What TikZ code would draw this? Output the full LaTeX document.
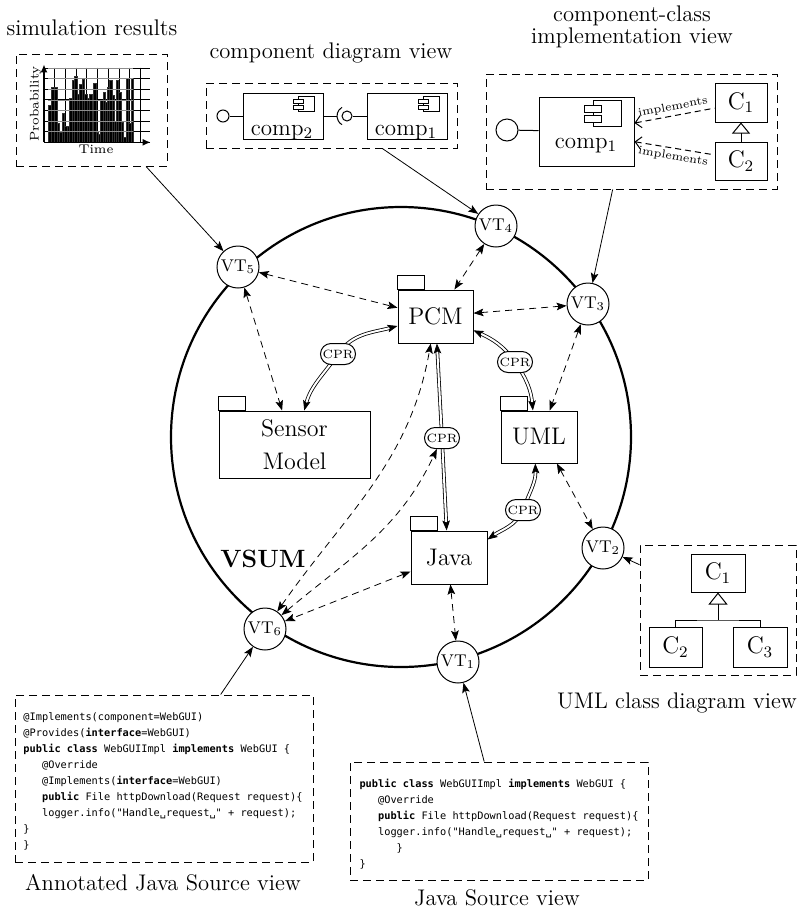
\documentclass[tikz,border=0pt]{standalone}
\usepackage{fontspec}
\newfontfamily\codefont{DejaVu Sans Mono}
\usetikzlibrary{arrows.meta,shapes.misc,backgrounds}
\begin{document}
\begin{tikzpicture}[x=0.5pt,y=-0.5pt,line width=0.5pt,
  lbl/.style={font=\fontsize{11.3}{12}\selectfont, inner sep=0, anchor=base},
  pkg/.style={draw, fill=white, inner sep=0, align=center, font=\fontsize{12}{16.5}\selectfont},
  vt/.style={draw, circle, fill=white, minimum size=21pt, inner sep=0, font=\fontsize{8.5}{10}\selectfont},
  cpr/.style={draw, rounded rectangle, fill=white, minimum width=18.5pt, minimum height=10.5pt, inner sep=0.5pt, font=\fontsize{6}{7}\selectfont},
  view/.style={draw, dash pattern=on 4pt off 2.5pt, inner sep=0},
  plainbox/.style={draw, inner sep=0, fill=white},
  cls/.style={draw, inner sep=0, fill=white, font=\fontsize{12}{14}\selectfont},
  comptxt/.style={font=\fontsize{11.5}{13}\selectfont, inner sep=0, anchor=base},
  vtip/.tip={Stealth[length=5pt,width=3.8pt,inset=1pt]},
  dar/.style={dash pattern=on 3.5pt off 2.5pt, {vtip}-{vtip}},
  sar/.style={-{vtip}},
  dbl/.style={double, double distance=1pt, line width=0.4pt},
  impl/.style={dash pattern=on 3pt off 2pt, {Straight Barb[length=3pt,width=6pt]}-},
  impltxt/.style={inner sep=1.5pt, font=\fontsize{5.8}{7}\selectfont},
  code/.style={anchor=north west, inner sep=0, align=left, font=\codefont\fontsize{5.15}{8}\selectfont},
  cicon/.pic={
    \draw[fill=white] (0,0) rectangle (16,15);
    \draw[fill=white] (-5,3) rectangle (5,7);
    \draw[fill=white] (-5,9) rectangle (5,13);
  }
]
\useasboundingbox (0,0) rectangle (800,911);

% ---------- central model ----------
\coordinate (vsumc) at (401,437);
\node[pkg, minimum width=37.5pt, minimum height=26.5pt] (pcm) at (435.5,316.5) {PCM};
\node[pkg, minimum width=75.5pt, minimum height=33.5pt] (sensor) at (294.5,444.5) {Sensor\\Model};
\node[pkg, minimum width=38pt, minimum height=26pt] (uml) at (539,437) {UML};
\node[pkg, minimum width=38pt, minimum height=26.5pt] (java) at (449,557.5) {Java};
\foreach \n in {pcm,sensor,uml,java}
  \draw (\n.north west) rectangle ++(13.5pt,6.8pt);

\node[font=\bfseries\fontsize{12.5}{14}\selectfont, inner sep=0, anchor=base] (vsum) at (263,567) {VSUM};

\node[vt] (vt1) at (458,662) {VT$_1$};
\node[vt] (vt2) at (603,548) {VT$_2$};
\node[vt] (vt3) at (588,304) {VT$_3$};
\node[vt] (vt4) at (496,226) {VT$_4$};
\node[vt] (vt5) at (238,267) {VT$_5$};
\node[vt] (vt6) at (265,629) {VT$_6$};

\node[cpr] (cpr1) at (338,354) {CPR};
\node[cpr] (cpr2) at (515,362) {CPR};
\node[cpr] (cpr3) at (442,438) {CPR};
\node[cpr] (cpr4) at (523,510) {CPR};

% ---------- simulation results ----------
\node[lbl] (simlbl) at (92,35) {simulation results};
\node[view, minimum width=75.5pt, minimum height=56pt] (simbox) at (91.5,110) {};
\begin{scope}[shift={(30,55)}, xscale=1/3, yscale=1/3]
  \foreach \i in {0,...,9}
    \draw[black, line width=0.45pt] ({42+\i*32.2},38) -- ({42+\i*32.2},262);
  \foreach \j in {0,...,7}
    \draw[black, line width=0.45pt] (42,{262-\j*31.8}) -- (360,{262-\j*31.8});
  \foreach \a/\b/\t in {55/63/150, 63/72/95, 72/80/95, 80/88/205, 88/95/230, 95/102/175,
     102/110/212, 110/118/212, 118/125/128, 125/133/75, 133/140/62, 140/147/118, 147/155/88,
     155/162/72, 162/170/118, 170/177/128, 177/185/118, 185/190/150, 190/197/85, 197/203/230,
     203/210/238, 210/218/135, 218/225/110, 225/231/140, 231/238/95, 238/245/75, 245/251/120,
     251/258/198, 258/265/75, 265/272/110, 272/280/200, 280/288/245, 288/295/70, 295/302/205,
     302/308/70}
    \filldraw[fill=black, draw=black!80, line width=0.15pt] (\a,\t) rectangle (\b,262);
  \foreach \j in {1,...,7}
    \draw[black!45, line width=0.25pt] (55,{262-\j*31.8}) -- (308,{262-\j*31.8});
  \draw[line width=0.8pt, -{Latex[length=4pt,width=3.5pt]}] (42,262) -- (42,28);
  \draw[line width=0.8pt, -{Latex[length=4pt,width=3.5pt]}] (42,262) -- (362,262);
\end{scope}
\node[rotate=90, font=\fontsize{6.3}{7}\selectfont, inner sep=0] (problbl) at (35.5,104) {Probability};
\node[font=\fontsize{6.3}{7}\selectfont, inner sep=0] (timelbl) at (96,149.5) {Time};

% ---------- component diagram view ----------
\node[lbl] (complbl) at (331,58.5) {component diagram view};
\node[view, minimum width=125.5pt, minimum height=32.5pt] (compbox) at (331.5,115.5) {};
\node[plainbox, minimum width=40pt, minimum height=23pt] (comp2) at (283,116) {};
\node[plainbox, minimum width=40pt, minimum height=23pt] (comp1) at (407,116) {};
\pic at (298,96) {cicon};
\pic at (423,96) {cicon};
\node[comptxt] (comp2txt) at (282,135) {comp$_2$};
\node[comptxt] (comp1txt) at (406,135) {comp$_1$};
\node[draw, circle, minimum size=6pt, inner sep=0] (lol2) at (223,116) {};
\node[draw, circle, minimum size=5pt, inner sep=0] (ball1) at (347,116) {};
\draw (lol2) -- (comp2);
\draw ([shift={(120:5pt)}]ball1.center) arc[start angle=120, end angle=240, radius=5pt];
\draw (comp2.east) -- ([xshift=-5pt]ball1.center);
\draw (ball1) -- (comp1);

% ---------- component-class implementation view ----------
\node[lbl] (impllbl1) at (632,21.7) {component-class};
\node[lbl] (impllbl2) at (632,43.3) {implementation view};
\node[view, minimum width=145.5pt, minimum height=57.5pt] (implbox) at (631.5,131.5) {};
\node[plainbox, minimum width=47.5pt, minimum height=34.5pt] (icomp) at (586.5,131.5) {};
\pic[scale=1.75] at (593,100) {cicon};
\node[comptxt] (icomptxt) at (586,148) {comp$_1$};
\node[draw, circle, minimum size=11pt, inner sep=0] (ilol) at (507,130) {};
\draw (ilol) -- (icomp);
\node[cls, minimum width=26pt, minimum height=19.5pt] (ic1) at (741,102.5) {C$_1$};
\node[cls, minimum width=26pt, minimum height=19pt] (ic2) at (741,161) {C$_2$};
\draw[-{Triangle[open,length=5.5pt,width=9pt]}] (ic2) -- (ic1);
\draw[impl] (icomp.10) -- node[pos=0.5, sloped, above, impltxt] {implements} (ic1.192);
\draw[impl] (icomp.-12.5) -- node[pos=0.5, sloped, below, impltxt] {implements} (ic2.167);

% ---------- UML class diagram view ----------
\node[view, minimum width=78pt, minimum height=65pt] (umlbox) at (718,610) {};
\node[cls, minimum width=27pt, minimum height=19pt] (uc1) at (718,573) {C$_1$};
\node[cls, minimum width=26.5pt, minimum height=20pt] (uc2) at (675.5,647) {C$_2$};
\node[cls, minimum width=27pt, minimum height=20pt] (uc3) at (760,647) {C$_3$};
\coordinate (ujoin) at (718,620);
\draw (uc2.north) |- (ujoin) -| (uc3.north);
\draw[-{Triangle[open,length=6pt,width=9.5pt]}] (ujoin) -- (uc1.south);
\node[lbl] (umllbl) at (677,708) {UML class diagram view};

% ---------- annotated java source ----------
\node[view, minimum width=149pt, minimum height=83.5pt] (anbox) at (164,778.5) {};
\node[code] (antext) at (23,712) {%
@Implements(component=WebGUI)\\
@Provides(\textbf{interface}=WebGUI)\\
\textbf{public class} WebGUIImpl \textbf{implements} WebGUI \{\\
\phantom{xxx}@Override\\
\phantom{xxx}@Implements(\textbf{interface}=WebGUI)\\
\phantom{xxx}\textbf{public} File httpDownload(Request request)\{\\
\phantom{xxx}logger.info("Handle␣request␣" + request);\\
\}\\
\}};
\node[lbl] (anlbl) at (163,890) {Annotated Java Source view};

% ---------- java source ----------
\node[view, minimum width=149pt, minimum height=59pt] (jsbox) at (499,821) {};
\node[code] (jstext) at (359,779) {%
\textbf{public class} WebGUIImpl \textbf{implements} WebGUI \{\\
\phantom{xxx}@Override\\
\phantom{xxx}\textbf{public} File httpDownload(Request request)\{\\
\phantom{xxx}logger.info("Handle␣request␣" + request);\\
\phantom{xxxxxx}\}\\
\}};
\node[lbl] (jslbl) at (497,905) {Java Source view};

% ---------- connectors ----------
\begin{pgfonlayer}{background}
  \draw[line width=1.1pt] (vsumc) circle[radius=115pt];

  % CPR double connectors
  \draw[dbl, {vtip}-{vtip}] (sensor.74) to[out=75,in=-125] (cpr1.center) to[out=55,in=195] (pcm.194);
  \draw[dbl, {vtip}-{vtip}] (pcm.-20) to[out=-25,in=125] (cpr2.center) to[out=-55,in=95] (uml.103);
  \draw[dbl, {vtip}-{vtip}] (pcm.-87) -- (cpr3.center) -- (java.95);
  \draw[dbl, {vtip}-{vtip}] (uml.-98) to[out=-88,in=70] (cpr4.center) to[out=-115,in=35] (java.25);

  % view-type dashed connectors
  \draw[dar] (vt5) -- (pcm.167);
  \draw[dar] (vt5) -- (sensor.110);
  \draw[dar] (vt4) -- (pcm.55);
  \draw[dar] (pcm.5) -- (vt3);
  \draw[dar] (vt3) -- (uml.68);
  \draw[dar] (uml.-56) -- (vt2);
  \draw[dar] (java.-87) -- (vt1);
  \draw[dar] (java.200) -- (vt6);
  \draw[dar] (vt6) to[out=40,in=-115] (cpr3);
  \draw[dar] (vt6) to[out=55,in=-100] (pcm.-100);

  % views to view types
  \draw[sar] (simbox.-46) -- (vt5);
  \draw[sar] (compbox.-33.6) -- (vt4);
  \draw[sar] (implbox.-108) -- (vt3);
  \draw[sar] (umlbox.150) -- (vt2);
  \draw[sar] (anbox.56) -- (vt6);
  \draw[sar] (jsbox.104) -- (vt1);
\end{pgfonlayer}
\end{tikzpicture}
\end{document}
